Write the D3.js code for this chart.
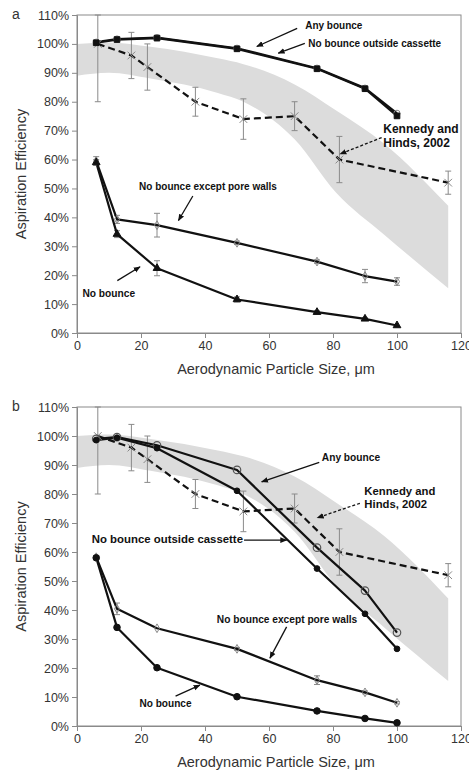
<!DOCTYPE html>
<html>
<head>
<meta charset="utf-8">
<script src="https://cdn.jsdelivr.net/npm/d3@7"></script>
<style>
  body { margin: 0; background: #fff; }
  svg { font-family: "Liberation Sans", Arial, sans-serif; }
</style>
</head>
<body>
<div class="chart"></div>
<script>
// particle sizes (um) of the simulated points
var sizes = [6, 12.5, 25, 50, 75, 90, 100];

// Kennedy and Hinds, 2002
var khSizes = [6.5, 17, 22, 37, 52, 68, 82, 116];
var khEff = [100, 96, 92, 80, 74, 75, 60, 52];
var khLow = [80, 88, 84, 75, 67, 70, 52, 48];
var khHigh = [110, 104, 100, 85, 81, 80, 68, 56];

// grey band
var bandSizes = [0, 10, 23, 44, 52, 68, 81, 96, 116];
var bandUpper = [100, 100.5, 99, 95, 93, 86, 77, 65.5, 44];
var bandLower = [89, 90, 88, 83, 80, 67, 48.5, 34, 15.5];

// panel a
var aAny = [100.6, 101.7, 102.2, 98.5, 91.6, 84.7, 76];
var aOutside = [100.4, 101.5, 102, 98.3, 91.4, 84.5, 75.1];
var aPore = [59.5, 39.3, 37.3, 31.2, 24.7, 19.7, 17.8];
var aPoreErr = [1.5, 1.4, 4.1, 0.6, 0.6, 2.3, 1.3];
var aNone = [59, 34.2, 22.4, 11.6, 7.2, 4.9, 2.6];
var aNoneErr = [1, 1.2, 2.6, 0.9, 0.5, 0.4, 0.3];

// panel b
var bAny = [99, 99.6, 96.8, 88.3, 61.5, 46.7, 32.2];
var bOutside = [98.6, 99.4, 95.8, 81.1, 54.3, 38.7, 26.6];
var bPore = [58.2, 40.4, 33.7, 26.6, 15.8, 11.6, 8];
var bPoreErr = [0.5, 2, 0.4, 0.5, 1.5, 0.5, 0.4];
var bNone = [58, 34, 20.1, 10.1, 5.2, 2.6, 1.1];
var bNoneErr = [0.6, 0.5, 0.3, 0.3, 0.3, 0.3, 0.2];

var yTicks = [0, 10, 20, 30, 40, 50, 60, 70, 80, 90, 100, 110];
var xTicks = [0, 20, 40, 60, 80, 100, 120];

// annotations: text lines, text anchor (data units), arrow from -> to (data units)
var notesA = [
  {lines: ["Any bounce"], at: [71.3, 105.2], size: 10, from: [68.8, 105.4], to: [56.2, 99.1]},
  {lines: ["No bounce outside cassette"], at: [72.3, 98.8], size: 10, from: [71.2, 100.2], to: [62.9, 96.8]},
  {lines: ["Kennedy and", "Hinds, 2002"], at: [95.7, 69.2], size: 12, dash: true, from: [95.2, 67.6], to: [82.2, 61.9]},
  {lines: ["No bounce except pore walls"], at: [19.4, 49.3], size: 10, from: [36.2, 47.4], to: [31.7, 38.9]},
  {lines: ["No bounce"], at: [1.7, 12.6], size: 10.2, from: [12.6, 18.1], to: [19.7, 22.9]}
];
var notesB = [
  {lines: ["Any bounce"], at: [76.5, 91.5], size: 10.2, from: [75.7, 90.9], to: [57.7, 84.2]},
  {lines: ["Kennedy and", "Hinds, 2002"], at: [89.8, 79.8], size: 11.3, dash: true, from: [88.4, 76.8], to: [75.1, 71.8]},
  {lines: ["No bounce outside cassette"], at: [4.6, 63.1], size: 11.4, from: [52.2, 64.1], to: [65.5, 64.1]},
  {lines: ["No bounce except pore walls"], at: [43.7, 35.5], size: 10.2, from: [65.5, 34.2], to: [60.3, 23.4]},
  {lines: ["No bounce"], at: [19.5, 6.55], size: 10.1, from: [30.8, 10.3], to: [38.4, 14.1]}
];

var width = 469, height = 773;
var svg = d3.select(".chart").append("svg")
  .attr("width", width)
  .attr("height", height);

var defs = svg.append("defs");
defs.append("marker")
  .attr("id", "head")
  .attr("viewBox", "0 0 10 10")
  .attr("refX", 9).attr("refY", 5)
  .attr("markerWidth", 7).attr("markerHeight", 7)
  .attr("markerUnits", "userSpaceOnUse")
  .attr("orient", "auto")
  .append("path").attr("d", "M0,1 L10,5 L0,9 Z").attr("fill", "#111");

function zip(xs, ys) {
  return xs.map(function(x, i) { return [x, ys[i]]; });
}

function drawPanel(cfg) {
  var x = d3.scaleLinear().domain([0, 120]).range([77, 461]);
  var y = d3.scaleLinear().domain([0, 110]).range([cfg.bottom, cfg.top]);
  var g = svg.append("g");

  // band
  var band = d3.area()
    .x(function(d) { return x(d[0]); })
    .y0(function(d) { return y(d[1]); })
    .y1(function(d) { return y(d[2]); })
    .curve(d3.curveMonotoneX);
  g.append("path")
    .datum(bandSizes.map(function(s, i) { return [s, bandLower[i], bandUpper[i]]; }))
    .attr("d", band)
    .attr("fill", "#dcdcdc");

  // frame
  g.append("rect")
    .attr("x", x(0)).attr("y", y(110))
    .attr("width", x(120) - x(0)).attr("height", y(0) - y(110))
    .attr("fill", "none").attr("stroke", "#8a8a8a").attr("stroke-width", 1);

  var yAxis = g.append("g")
    .attr("transform", "translate(" + x(0) + ",0)")
    .call(d3.axisLeft(y).tickValues(yTicks).tickSize(5).tickFormat(function(d) { return d + "%"; }));
  var xAxis = g.append("g")
    .attr("transform", "translate(0," + y(0) + ")")
    .call(d3.axisBottom(x).tickValues(xTicks).tickSize(5).tickFormat(d3.format("d")));
  [yAxis, xAxis].forEach(function(a) {
    a.select(".domain").attr("stroke", "#8a8a8a");
    a.selectAll(".tick line").attr("stroke", "#8a8a8a");
    a.selectAll(".tick text")
      .attr("fill", "#333")
      .style("font-size", "12.5px")
      .style("font-family", "'Liberation Sans', Arial, sans-serif");
  });
  yAxis.selectAll(".tick text").attr("x", -8);
  xAxis.selectAll(".tick text").attr("y", 8);

  g.append("text")
    .attr("x", 16).attr("y", cfg.top + 4)
    .attr("text-anchor", "middle")
    .attr("fill", "#333")
    .style("font-size", "14px")
    .text(cfg.label);

  g.append("text")
    .attr("transform", "translate(26," + (cfg.top + cfg.bottom) / 2 + ") rotate(-90)")
    .attr("text-anchor", "middle")
    .attr("fill", "#333")
    .style("font-size", "14.5px")
    .text("Aspiration Efficiency");

  g.append("text")
    .attr("x", 276).attr("y", y(0) + 41)
    .attr("text-anchor", "middle")
    .attr("fill", "#333")
    .style("font-size", "14.5px")
    .text("Aerodynamic Particle Size, \u03bcm");

  var line = d3.line()
    .x(function(d) { return x(d[0]); })
    .y(function(d) { return y(d[1]); });

  // error bars
  function errBars(xs, lo, hi) {
    xs.forEach(function(s, i) {
      if (hi[i] - lo[i] < 0.8) return;
      g.append("line")
        .attr("x1", x(s)).attr("x2", x(s))
        .attr("y1", y(lo[i])).attr("y2", y(hi[i]))
        .attr("stroke", "#8a8a8a").attr("stroke-width", 1);
      [lo[i], hi[i]].forEach(function(v) {
        g.append("line")
          .attr("x1", x(s) - 3).attr("x2", x(s) + 3)
          .attr("y1", y(v)).attr("y2", y(v))
          .attr("stroke", "#8a8a8a").attr("stroke-width", 1);
      });
    });
  }
  errBars(khSizes, khLow, khHigh);
  errBars(sizes,
    cfg.pore.map(function(v, i) { return v - cfg.poreErr[i]; }),
    cfg.pore.map(function(v, i) { return v + cfg.poreErr[i]; }));
  errBars(sizes,
    cfg.none.map(function(v, i) { return v - cfg.noneErr[i]; }),
    cfg.none.map(function(v, i) { return v + cfg.noneErr[i]; }));

  // lines
  g.append("path").datum(zip(khSizes, khEff)).attr("d", line)
    .attr("fill", "none").attr("stroke", "#111").attr("stroke-width", 2.2)
    .attr("stroke-dasharray", "7,4");
  [cfg.any, cfg.outside, cfg.pore, cfg.none].forEach(function(s) {
    g.append("path").datum(zip(sizes, s)).attr("d", line)
      .attr("fill", "none").attr("stroke", "#111").attr("stroke-width", 2.2)
      .attr("stroke-linejoin", "round");
  });

  // markers
  var sym = function(type, sz) { return d3.symbol().type(type).size(sz)(); };
  function marks(xs, ys, type, sz, fill, stroke, sw) {
    g.selectAll(null).data(zip(xs, ys)).enter().append("path")
      .attr("transform", function(d) { return "translate(" + x(d[0]) + "," + y(d[1]) + ")"; })
      .attr("d", sym(type, sz))
      .attr("fill", fill).attr("stroke", stroke).attr("stroke-width", sw);
  }
  marks(khSizes, khEff, d3.symbolTimes, 40, "none", "#888", 1);
  cfg.drawMarks(marks);

  // annotations
  cfg.notes.forEach(function(n) {
    g.append("line")
      .attr("x1", x(n.from[0])).attr("y1", y(n.from[1]))
      .attr("x2", x(n.to[0])).attr("y2", y(n.to[1]))
      .attr("stroke", "#111").attr("stroke-width", 1.3)
      .attr("stroke-dasharray", n.dash ? "3,2" : null)
      .attr("marker-end", "url(#head)");
    n.lines.forEach(function(t, i) {
      g.append("text")
        .attr("x", x(n.at[0]))
        .attr("y", y(n.at[1]) + i * n.size * 1.2)
        .attr("fill", "#111")
        .style("font-size", n.size + "px")
        .style("font-weight", "bold")
        .text(t);
    });
  });
}

drawPanel({
  label: "a", top: 15, bottom: 333,
  any: aAny, outside: aOutside, pore: aPore, poreErr: aPoreErr, none: aNone, noneErr: aNoneErr,
  notes: notesA,
  drawMarks: function(marks) {
    marks(sizes, aAny, d3.symbolCircle, 30, "none", "#888", 1);
    marks(sizes, aOutside, d3.symbolSquare, 32, "#111", "#111", 1);
    marks(sizes, aPore, d3.symbolDiamond, 22, "none", "#888", 1);
    marks(sizes, aNone, d3.symbolTriangle, 26, "#111", "#111", 1);
  }
});

drawPanel({
  label: "b", top: 407, bottom: 726,
  any: bAny, outside: bOutside, pore: bPore, poreErr: bPoreErr, none: bNone, noneErr: bNoneErr,
  notes: notesB,
  drawMarks: function(marks) {
    marks(sizes, bAny, d3.symbolCircle, 44, "none", "#555", 1.2);
    marks(sizes, bOutside, d3.symbolCircle, 26, "#111", "#111", 1);
    marks(sizes, bPore, d3.symbolDiamond, 22, "none", "#888", 1);
    marks(sizes, bNone, d3.symbolCircle, 34, "#111", "#111", 1);
  }
});
</script>
</body>
</html>
